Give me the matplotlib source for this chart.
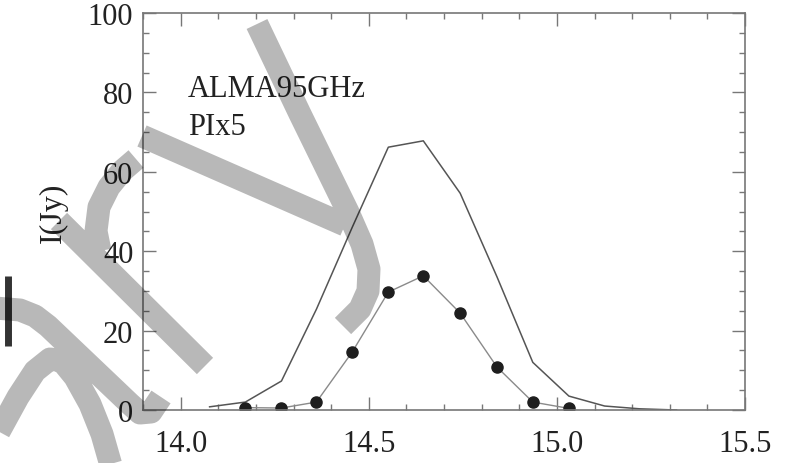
import matplotlib
matplotlib.use("Agg")
from matplotlib import pyplot as plt
from matplotlib.path import Path
from matplotlib.patches import PathPatch
from matplotlib.ticker import MultipleLocator
import numpy as np

plt.rcParams['font.family'] = 'serif'
plt.rcParams['font.serif'] = ['Liberation Serif', 'DejaVu Serif']

# upper curve (no markers)
total_x = [14.077, 14.172, 14.268, 14.361, 14.456, 14.552, 14.645, 14.743,
           14.841, 14.936, 15.032, 15.127, 15.220, 15.318]
total_i = [0.8, 2.0, 7.3, 25.4, 46.0, 66.2, 67.8, 54.6, 33.5, 12.0, 3.5, 1.0, 0.3, 0.0]

# polarised intensity x5 (dots)
pi_x = [14.172, 14.268, 14.361, 14.456, 14.552, 14.645, 14.743, 14.841, 14.936, 15.032]
pi_i = [0.6, 0.5, 2.0, 14.6, 29.7, 33.8, 24.4, 10.8, 2.0, 0.4]

xticks = [14.0, 14.5, 15.0, 15.5]
yticks = [0, 20, 40, 60, 80, 100]

W, H = 802, 464
fig = plt.figure(figsize=(W / 100, H / 100), dpi=100)
ax = fig.add_axes([143 / W, 1 - 411 / H, 602 / W, 397 / H])

ax.plot(total_x, total_i, "-", color="#555555", lw=1.1)
ax.plot(pi_x, pi_i, "-", color="#8a8a8a", lw=1.0)
ax.plot(pi_x, pi_i, "o", color="#1e1e1e", markersize=8, mec="#1e1e1e")

ax.set_xlim(13.90, 15.50)
ax.set_ylim(0, 100)
ax.set_xticks(xticks)
ax.set_xticklabels(["%.1f" % t for t in xticks])
ax.set_yticks(yticks)
ax.xaxis.set_minor_locator(MultipleLocator(0.1))
ax.yaxis.set_minor_locator(MultipleLocator(5))
ax.tick_params(which="both", direction="in", top=True, right=True,
               color="#777777", width=1.0, labelcolor="#222222")
ax.tick_params(which="major", length=9.5, labelsize=22)
ax.tick_params(axis="y", which="major", pad=7)
ax.tick_params(axis="x", which="major", pad=14)
ax.tick_params(which="minor", length=4.5)
for s in ax.spines.values():
    s.set_color("#777777")
    s.set_linewidth(1.2)

ax.set_ylabel("I(Jy)", fontsize=23, color="#222222", labelpad=14)
ax.text(0.075, 0.791, "ALMA95GHz", transform=ax.transAxes, fontsize=22,
        color="#222222", va="baseline", ha="left")
ax.text(0.075, 0.695, "PIx5", transform=ax.transAxes, fontsize=22,
        color="#222222", va="baseline", ha="left")

# watermark strokes over the figure (pixel coords, y down)
strokes = [
    [(257, 25), (300, 115), (348, 213), (362, 245), (369, 270), (368, 292), (360, 310), (343, 327)],
    [(142, 137), (345, 226)],
    [(59, 222), (205, 367)],
    [(100, 252), (96, 232), (99, 208), (109, 188), (122, 172), (136, 160)],
    [(-5, 309), (20, 311), (35, 317), (48, 327), (130, 405), (140, 414), (151, 413), (161, 398)],
    [(-5, 440), (18, 398), (35, 372), (50, 360), (62, 362), (75, 378), (90, 405), (102, 435), (112, 470)],
]
verts, codes = [], []
for st in strokes:
    for k, (px, py) in enumerate(st):
        verts.append((px / W, 1 - py / H))
        codes.append(Path.MOVETO if k == 0 else Path.LINETO)
wm = PathPatch(Path(verts, codes), transform=fig.transFigure, fill=False,
               edgecolor="black", alpha=0.28, lw=23 * 0.72,
               capstyle="butt", joinstyle="round", zorder=10)
fig.add_artist(wm)

bar = plt.Line2D([8 / W, 8 / W], [1 - 277 / H, 1 - 347 / H], transform=fig.transFigure,
                 color="#333333", lw=5, solid_capstyle="butt")
fig.add_artist(bar)

fig.savefig("out.png", dpi=100)
